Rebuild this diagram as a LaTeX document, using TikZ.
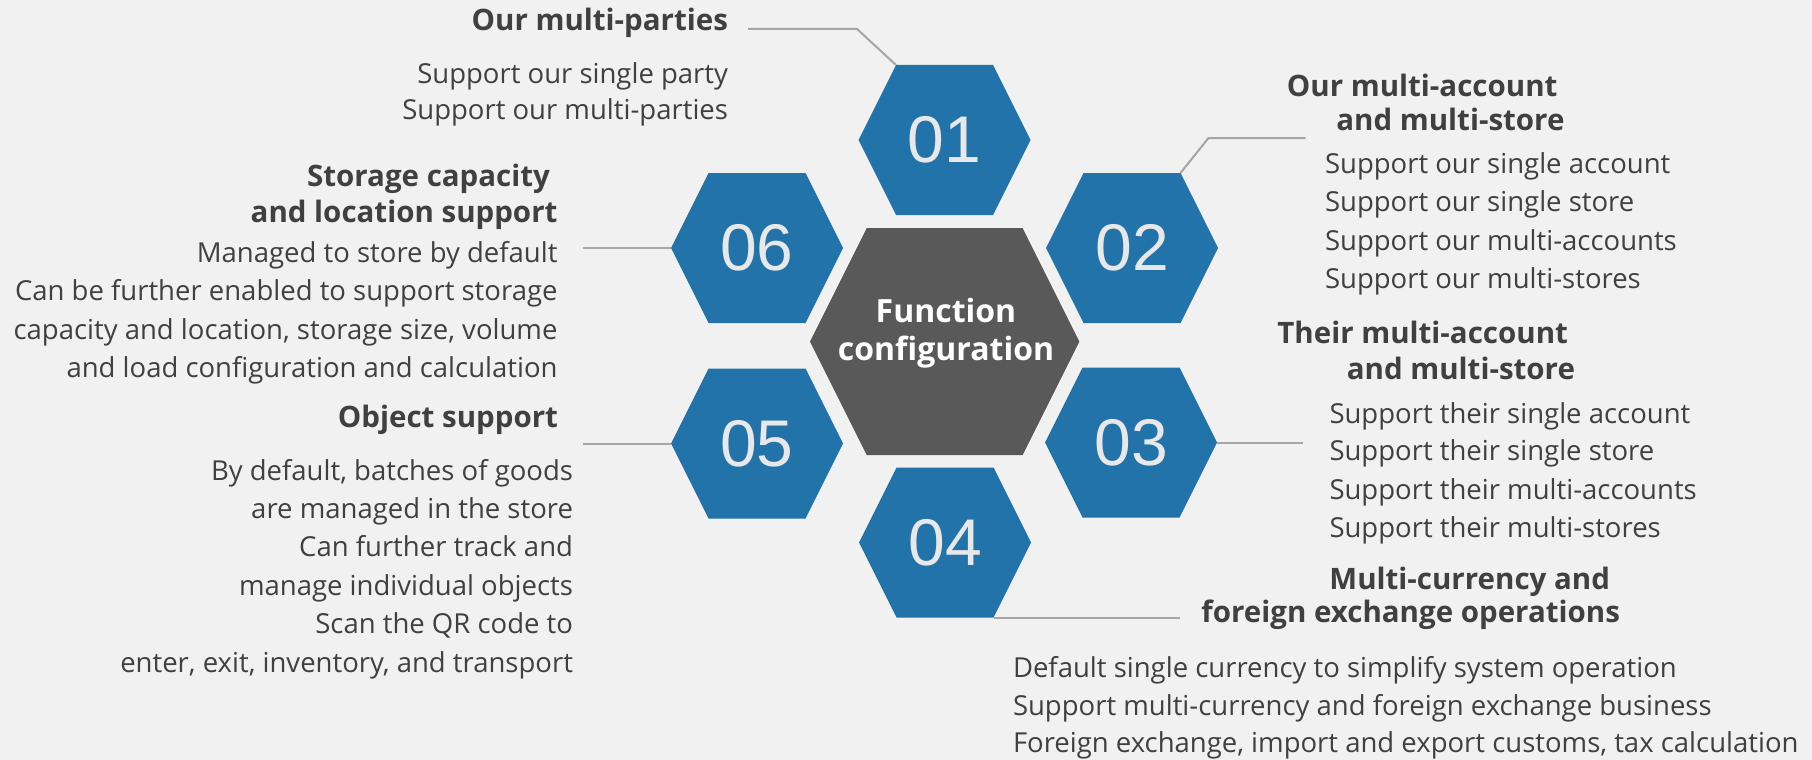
\documentclass[tikz,border=0pt]{standalone}
\usepackage{fontspec}
\setmainfont{Open Sans}
\newfontfamily\numfont{Liberation Sans}
\definecolor{bgc}{HTML}{F1F1F1}
\definecolor{hexblue}{HTML}{2373AB}
\definecolor{hexgray}{HTML}{595959}
\definecolor{conncol}{HTML}{A6A6A6}
\definecolor{txtc}{HTML}{404040}
\definecolor{numc}{HTML}{E8E8E8}
\newcommand{\myhex}[7]{%
  \begin{scope}[shift={(#2,#3)}]
    \coordinate (#1) at (0,0);
    \coordinate (#1-l) at (-#4,0);
    \coordinate (#1-tl) at (-#5,-#6);
    \coordinate (#1-tr) at (#5,-#6);
    \coordinate (#1-r) at (#4,0);
    \coordinate (#1-br) at (#5,#6);
    \coordinate (#1-bl) at (-#5,#6);
    \fill[#7] (#1-l) -- (#1-tl) -- (#1-tr) -- (#1-r) -- (#1-br) -- (#1-bl) -- cycle;
  \end{scope}}
\begin{document}
\begin{tikzpicture}[x=1pt,y=-1pt,
  body/.style={inner sep=0pt, outer sep=0pt, text=txtc, font=\fontsize{27.5}{33}\selectfont},
  head/.style={inner sep=0pt, outer sep=0pt, text=txtc, font=\fontsize{29.5}{35}\selectfont\bfseries},
  numtxt/.style={inner sep=0pt, text=numc, font=\fontsize{66}{70}\selectfont\numfont},
  centertxt/.style={inner sep=0pt, text=white, font=\fontsize{32}{38}\selectfont\bfseries},
  conn/.style={draw=conncol, line width=2pt}]
\fill[bgc] (0,0) rectangle (1812,760);
\useasboundingbox (0,0) rectangle (1812,760);

% hexagons
\myhex{hc}{944.7}{341.6}{134.7}{78}{113.4}{hexgray}
\myhex{h1}{944.5}{140}{86}{48.5}{75}{hexblue}
\myhex{h2}{1132}{248}{86}{48.5}{75}{hexblue}
\myhex{h3}{1131}{442.5}{86}{48.5}{75}{hexblue}
\myhex{h4}{945}{542.5}{86}{48.5}{75}{hexblue}
\myhex{h5}{757}{443.5}{86}{48.5}{75}{hexblue}
\myhex{h6}{757}{248}{86}{48.5}{75}{hexblue}

\node[numtxt] (n1) at (h1) {01};
\node[numtxt] (n2) at (h2) {02};
\node[numtxt] (n3) at (h3) {03};
\node[numtxt] (n4) at (h4) {04};
\node[numtxt] (n5) at (h5) {05};
\node[numtxt] (n6) at (h6) {06};

\node[centertxt, anchor=base] (c1) at (946,322.7) {Function};
\node[centertxt, anchor=base] (c2) at (946,360) {configuration};

% connectors
\coordinate (k1) at (857,29);
\coordinate (e1) at (748,29);
\draw[conn] (h1-tl) -- (k1) -- (e1);
\coordinate (k2) at (1208.5,138);
\coordinate (e2) at (1305.5,138);
\draw[conn] (h2-tr) -- (k2) -- (e2);
\coordinate (e3) at (1303,442.5);
\draw[conn] (h3-r) -- (e3);
\coordinate (e4) at (1180,617.5);
\draw[conn] (h4-br) -- (e4);
\coordinate (e5) at (583,443.5);
\draw[conn] (h5-l) -- (e5);
\coordinate (e6) at (583,248);
\draw[conn] (h6-l) -- (e6);

% group 01
\node[head, anchor=base east] (g1h) at (728,31) {Our multi-parties};
\node[body, anchor=base east] (g1a) at (728,83) {Support our single party};
\node[body, anchor=base east] (g1b) at (728,119.5) {Support our multi-parties};

% group 02
\node[head, anchor=base east] (g2h1) at (1557.5,96) {Our multi-account};
\node[head, anchor=base east] (g2h2) at (1564.5,130) {and multi-store};
\node[body, anchor=base west] (g2a) at (1325,173) {Support our single account};
\node[body, anchor=base west] (g2b) at (1325,211.5) {Support our single store};
\node[body, anchor=base west] (g2c) at (1325,250) {Support our multi-accounts};
\node[body, anchor=base west] (g2d) at (1325,288) {Support our multi-stores};

% group 03
\node[head, anchor=base east] (g3h1) at (1568,343) {Their multi-account};
\node[head, anchor=base east] (g3h2) at (1575,379) {and multi-store};
\node[body, anchor=base west] (g3a) at (1329.5,423) {Support their single account};
\node[body, anchor=base west] (g3b) at (1329.5,460.5) {Support their single store};
\node[body, anchor=base west] (g3c) at (1329.5,499) {Support their multi-accounts};
\node[body, anchor=base west] (g3d) at (1329.5,537) {Support their multi-stores};

% group 04
\node[head, anchor=base east] (g4h1) at (1610,589) {Multi-currency and};
\node[head, anchor=base east] (g4h2) at (1620,622.5) {foreign exchange operations};
\node[body, anchor=base west] (g4a) at (1013,677) {Default single currency to simplify system operation};
\node[body, anchor=base west] (g4b) at (1013,715) {Support multi-currency and foreign exchange business};
\node[body, anchor=base west] (g4c) at (1013,752) {Foreign exchange, import and export customs, tax calculation};

% group 05
\node[head, anchor=base east] (g5h) at (558,427) {Object support};
\node[body, anchor=base east] (g5a) at (573,480) {By default, batches of goods};
\node[body, anchor=base east] (g5b) at (573,518.4) {are managed in the store};
\node[body, anchor=base east] (g5c) at (573,556.8) {Can further track and};
\node[body, anchor=base east] (g5d) at (573,595.2) {manage individual objects};
\node[body, anchor=base east] (g5e) at (573,633.6) {Scan the QR code to};
\node[body, anchor=base east] (g5f) at (573,672) {enter, exit, inventory, and transport};

% group 06
\node[head, anchor=base east] (g6h1) at (550,186) {Storage capacity};
\node[head, anchor=base east] (g6h2) at (557.5,222) {and location support};
\node[body, anchor=base east] (g6a) at (557.5,262) {Managed to store by default};
\node[body, anchor=base east] (g6b) at (557.5,300) {Can be further enabled to support storage};
\node[body, anchor=base east] (g6c) at (557.5,339) {capacity and location, storage size, volume};
\node[body, anchor=base east] (g6d) at (557.5,377) {and load configuration and calculation};
\end{tikzpicture}
\end{document}
